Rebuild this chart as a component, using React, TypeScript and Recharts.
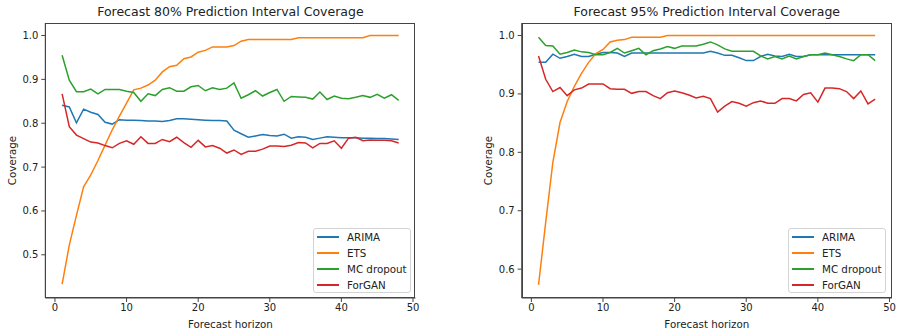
import { LineChart, Line, XAxis, YAxis } from 'recharts';

const horizons = [
  1, 2, 3, 4, 5, 6, 7, 8, 9, 10, 11, 12, 13, 14, 15, 16, 17, 18, 19, 20, 21, 22, 23, 24,
  25, 26, 27, 28, 29, 30, 31, 32, 33, 34, 35, 36, 37, 38, 39, 40, 41, 42, 43, 44, 45, 46, 47, 48,
];

// 80% interval coverage per horizon
const arima80 = [
  0.841, 0.837, 0.801, 0.832, 0.825, 0.82, 0.802, 0.798, 0.808, 0.807, 0.807, 0.806, 0.805, 0.805, 0.804, 0.806,
  0.81, 0.81, 0.809, 0.808, 0.807, 0.806, 0.806, 0.805, 0.784, 0.776, 0.768, 0.771, 0.774, 0.772, 0.771, 0.775,
  0.766, 0.769, 0.768, 0.763, 0.766, 0.769, 0.768, 0.767, 0.767, 0.767, 0.766, 0.766, 0.765, 0.765, 0.764, 0.763,
];
const ets80 = [
  0.433, 0.522, 0.59, 0.655, 0.682, 0.715, 0.75, 0.785, 0.816, 0.846, 0.876, 0.88, 0.887, 0.898, 0.917, 0.929,
  0.932, 0.947, 0.951, 0.962, 0.966, 0.974, 0.974, 0.974, 0.977, 0.987, 0.991, 0.991, 0.991, 0.991, 0.991, 0.991,
  0.991, 0.995, 0.995, 0.995, 0.995, 0.995, 0.995, 0.995, 0.995, 0.995, 0.995, 1.0, 1.0, 1.0, 1.0, 1.0,
];
const mc80 = [
  0.955, 0.898, 0.872, 0.872, 0.878, 0.867, 0.877, 0.877, 0.877, 0.873, 0.87, 0.85, 0.867, 0.863, 0.877, 0.881,
  0.873, 0.873, 0.883, 0.886, 0.874, 0.881, 0.877, 0.88, 0.892, 0.857, 0.865, 0.874, 0.862, 0.87, 0.877, 0.85,
  0.861, 0.86, 0.859, 0.855, 0.871, 0.854, 0.862, 0.857, 0.856, 0.859, 0.863, 0.859, 0.866, 0.857, 0.865, 0.852,
];
const forgan80 = [
  0.867, 0.792, 0.773, 0.765, 0.757, 0.755, 0.749, 0.744, 0.754, 0.76, 0.752, 0.769, 0.754, 0.754, 0.763, 0.758,
  0.768, 0.756, 0.745, 0.761, 0.746, 0.749, 0.743, 0.732, 0.739, 0.729, 0.736, 0.736, 0.741, 0.748, 0.748, 0.747,
  0.75, 0.756, 0.755, 0.744, 0.754, 0.754, 0.76, 0.743, 0.766, 0.768, 0.76, 0.762, 0.761, 0.761, 0.76, 0.755,
];

// 95% interval coverage per horizon
const arima95 = [
  0.954, 0.954, 0.968, 0.961, 0.964, 0.968, 0.964, 0.964, 0.968, 0.971, 0.971, 0.97, 0.964, 0.97, 0.97, 0.97,
  0.97, 0.97, 0.97, 0.97, 0.97, 0.97, 0.97, 0.97, 0.973, 0.97, 0.966, 0.966, 0.962, 0.957, 0.957, 0.964,
  0.968, 0.965, 0.964, 0.968, 0.964, 0.964, 0.967, 0.967, 0.967, 0.967, 0.967, 0.967, 0.967, 0.967, 0.967, 0.967,
];
const ets95 = [
  0.573, 0.68, 0.783, 0.851, 0.887, 0.913, 0.935, 0.954, 0.969, 0.976, 0.989, 0.992, 0.993, 0.997, 0.997, 0.997,
  0.997, 0.997, 1.0, 1.0, 1.0, 1.0, 1.0, 1.0, 1.0, 1.0, 1.0, 1.0, 1.0, 1.0, 1.0, 1.0,
  1.0, 1.0, 1.0, 1.0, 1.0, 1.0, 1.0, 1.0, 1.0, 1.0, 1.0, 1.0, 1.0, 1.0, 1.0, 1.0,
];
const mc95 = [
  0.997, 0.983, 0.982, 0.968, 0.971, 0.975, 0.972, 0.971, 0.967, 0.967, 0.971, 0.978, 0.97, 0.974, 0.978, 0.967,
  0.974, 0.977, 0.981, 0.978, 0.982, 0.982, 0.982, 0.985, 0.989, 0.984, 0.977, 0.973, 0.973, 0.973, 0.973, 0.965,
  0.96, 0.964, 0.96, 0.965, 0.96, 0.964, 0.967, 0.967, 0.97, 0.967, 0.964, 0.96, 0.957, 0.967, 0.967, 0.957,
];
const forgan95 = [
  0.965, 0.925, 0.904, 0.911, 0.897, 0.907, 0.91, 0.917, 0.917, 0.917, 0.909, 0.908, 0.908, 0.901, 0.904, 0.904,
  0.897, 0.892, 0.902, 0.905, 0.902, 0.898, 0.893, 0.896, 0.892, 0.869, 0.879, 0.887, 0.884, 0.879, 0.885, 0.888,
  0.884, 0.884, 0.892, 0.892, 0.888, 0.899, 0.902, 0.886, 0.91, 0.91, 0.909, 0.904, 0.892, 0.905, 0.883, 0.891,
];

const seriesNames = ['ARIMA', 'ETS', 'MC dropout', 'ForGAN'];
const seriesColors = ['#1f77b4', '#ff7f0e', '#2ca02c', '#d62728'];
const xTicks = [0, 10, 20, 30, 40, 50];
const yTicks80 = [0.5, 0.6, 0.7, 0.8, 0.9, 1.0];
const yTicks95 = [0.6, 0.7, 0.8, 0.9, 1.0];

const FONT = '"DejaVu Sans", sans-serif';
const INK = '#222';
const SPINE = '#444';
const X_DOMAIN: [number, number] = [-1.35, 50.35];
const CHART_H = 331;
const MARGIN_TOP = 23;
const X_AXIS_H = 33;

function buildRows(cols: number[][]) {
  return horizons.map((h, i) => {
    const row: Record<string, number> = { h };
    seriesNames.forEach((name, k) => {
      row[name] = cols[k][i];
    });
    return row;
  });
}

const rows80 = buildRows([arima80, ets80, mc80, forgan80]);
const rows95 = buildRows([arima95, ets95, mc95, forgan95]);

function LegendBox({ left, top }: { left: number; top: number }) {
  return (
    <div
      style={{
        position: 'absolute',
        left,
        top,
        width: 98,
        height: 65,
        boxSizing: 'border-box',
        border: '1px solid #d4d4d4',
        borderRadius: 3,
        background: 'rgba(255,255,255,0.85)',
        fontFamily: FONT,
        fontSize: 10.3,
        color: INK,
      }}
    >
      {seriesNames.map((name, i) => (
        <div key={name} style={{ position: 'relative', height: 16 }}>
          <div
            style={{ position: 'absolute', left: 3, top: 7, width: 22, height: 1.5, background: seriesColors[i] }}
          />
          <div style={{ position: 'absolute', left: 33, top: 1, lineHeight: '14px', whiteSpace: 'nowrap' }}>{name}</div>
        </div>
      ))}
    </div>
  );
}

type PanelProps = {
  title: string;
  rows: Record<string, number>[];
  yDomain: [number, number];
  yTicks: number[];
  left: number;
  width: number;
  yAxisWidth: number;
  marginRight: number;
  legendLeft: number;
};

function Panel({ title, rows, yDomain, yTicks, left, width, yAxisWidth, marginRight, legendLeft }: PanelProps) {
  const plotWidth = width - yAxisWidth - marginRight;
  const plotHeight = CHART_H - MARGIN_TOP - X_AXIS_H;
  const tick = { fill: INK, fontSize: 10, fontFamily: FONT };
  return (
    <div style={{ position: 'absolute', left, top: 0, width, height: CHART_H }}>
      <div
        style={{
          position: 'absolute',
          left: yAxisWidth,
          width: plotWidth,
          top: 4,
          textAlign: 'center',
          fontFamily: FONT,
          fontSize: 12.5,
          color: INK,
          whiteSpace: 'nowrap',
        }}
      >
        {title}
      </div>
      <LineChart width={width} height={CHART_H} data={rows} margin={{ top: MARGIN_TOP, right: marginRight, bottom: 0, left: 0 }}>
        <XAxis
          dataKey="h"
          type="number"
          domain={X_DOMAIN}
          ticks={xTicks}
          allowDataOverflow
          interval={0}
          height={X_AXIS_H}
          tickSize={4}
          tickMargin={2}
          stroke={SPINE}
          tick={tick}
          label={{ value: 'Forecast horizon', position: 'insideBottom', offset: 3, fill: INK, fontSize: 10.3, fontFamily: FONT }}
        />
        <YAxis
          type="number"
          domain={yDomain}
          ticks={yTicks}
          allowDataOverflow
          interval={0}
          width={yAxisWidth}
          tickSize={4}
          tickMargin={3}
          stroke={SPINE}
          tick={tick}
          tickFormatter={(v: number) => v.toFixed(1)}
          label={{
            value: 'Coverage',
            angle: -90,
            position: 'insideLeft',
            offset: 12,
            fill: INK,
            fontSize: 10.3,
            fontFamily: FONT,
            style: { textAnchor: 'middle' },
          }}
        />
        {seriesNames.map((name, i) => (
          <Line
            key={name}
            type="linear"
            dataKey={name}
            stroke={seriesColors[i]}
            strokeWidth={1.5}
            dot={false}
            isAnimationActive={false}
          />
        ))}
      </LineChart>
      {/* axes frame around the plot area */}
      <div
        style={{
          position: 'absolute',
          left: yAxisWidth,
          top: MARGIN_TOP,
          width: plotWidth,
          height: plotHeight,
          boxSizing: 'border-box',
          border: `1px solid ${SPINE}`,
          pointerEvents: 'none',
        }}
      />
      <LegendBox left={legendLeft} top={228} />
    </div>
  );
}

export default function App() {
  return (
    <div style={{ position: 'absolute', left: 0, top: 0, width: 897, height: 331, background: '#fff' }}>
      <Panel
        title="Forecast 80% Prediction Interval Coverage"
        rows={rows80}
        yDomain={[0.4015, 1.0285]}
        yTicks={yTicks80}
        left={0}
        width={450}
        yAxisWidth={45.3}
        marginRight={34.5}
        legendLeft={313}
      />
      <Panel
        title="Forecast 95% Prediction Interval Coverage"
        rows={rows95}
        yDomain={[0.5506, 1.0214]}
        yTicks={yTicks95}
        left={476}
        width={421}
        yAxisWidth={45.7}
        marginRight={5}
        legendLeft={312}
      />
    </div>
  );
}
